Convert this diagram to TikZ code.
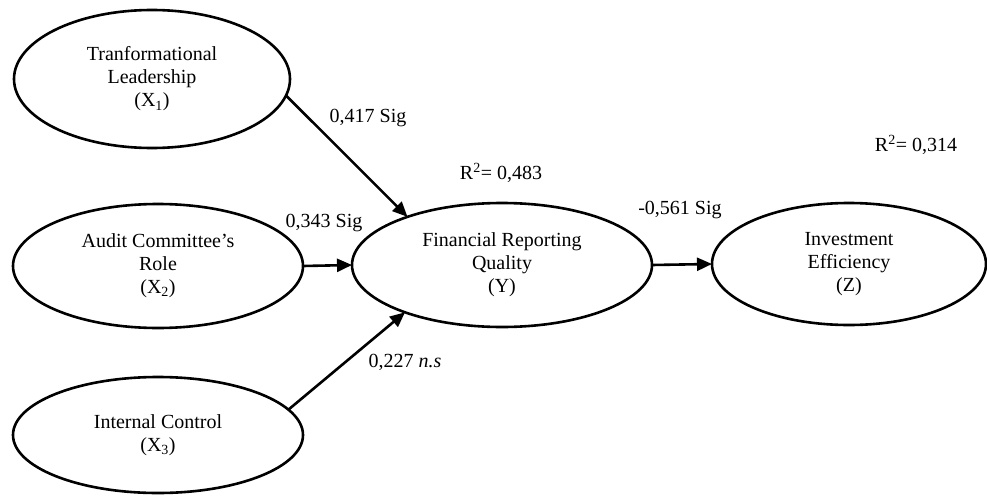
\documentclass[tikz,border=0pt]{standalone}
\usepackage{fontspec}
\setmainfont{Liberation Serif}
\usetikzlibrary{shapes.geometric,arrows.meta}
\begin{document}
\begin{tikzpicture}[x=1pt,y=-1pt,
  latent/.style={draw,ellipse,line width=2.6pt,inner sep=0pt,outer sep=0pt,align=center,
    font=\fontsize{20}{23}\selectfont},
  path/.style={line width=2.6pt,-{Triangle[length=15pt,width=13pt]}},
  lbl/.style={font=\fontsize{20}{23}\selectfont,inner sep=0pt}]
\useasboundingbox (0,0) rectangle (987,495);
\node[latent,minimum width=276pt,minimum height=138pt] (X1) at (152,79)
  {Tranformational\\Leadership\\(X\textsubscript{1})};
\node[latent,minimum width=290pt,minimum height=124pt] (X2) at (158,266)
  {Audit Committee’s\\Role\\(X\textsubscript{2})};
\node[latent,minimum width=290pt,minimum height=116pt] (X3) at (158,435)
  {Internal Control\\(X\textsubscript{3})};
\node[latent,minimum width=300pt,minimum height=124pt] (Y) at (502,265)
  {Financial Reporting\\Quality\\(Y)};
\node[latent,minimum width=274pt,minimum height=122pt] (Z) at (849,264)
  {Investment\\Efficiency\\(Z)};
\draw[path] (X1.-7) -- (Y.153);
\draw[path] (X2.east) -- (Y.west);
\draw[path] (X3.11) -- (Y.206);
\draw[path] (Y.east) -- (Z.west);
\node[lbl] (l1) at (368,118) {0,417 Sig};
\node[lbl] (l2) at (324,223) {0,343 Sig};
\node[lbl] (l3) at (405,362) {0,227 \textit{n.s}};
\node[lbl] (l4) at (680,210) {-0,561 Sig};
\node[lbl] (r1) at (501,173) {R\textsuperscript{2}= 0,483};
\node[lbl] (r2) at (916,145) {R\textsuperscript{2}= 0,314};
\end{tikzpicture}
\end{document}
